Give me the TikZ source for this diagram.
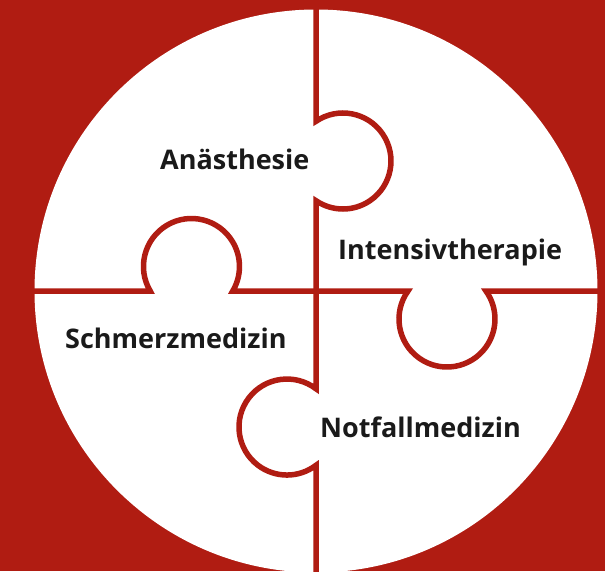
\documentclass[tikz,border=0pt]{standalone}
\usepackage{fontspec}
\setsansfont{Open Sans}
\definecolor{puzzlered}{RGB}{176,28,18}
\definecolor{labelgray}{RGB}{26,26,26}

\tikzset{
    cut/.style={draw=puzzlered, line width=5.5pt, line join=miter},
    label/.style={anchor=base west, inner sep=0pt, text=labelgray,
        font=\sffamily\bfseries\fontsize{27}{30}\selectfont}
}

\begin{document}
\begin{tikzpicture}[x=1pt, y=-1pt]
        \useasboundingbox (0,0) rectangle (605,571);
        \fill[puzzlered] (0,0) rectangle (605,571);
        \fill[white] (316,291) circle (281.5);
        % vertical cut with two knobs
        \draw[cut] (316,-5) -- (316,121.3)
            arc[start angle=-124.2, end angle=124.2, radius=48]
            -- (316,388.8)
            arc[start angle=-52.8, end angle=-307.2, radius=48]
            -- (316,580);
        % horizontal cut with two knobs
        \draw[cut] (-5,291) -- (150.2,291)
            arc[start angle=149.3, end angle=390.7, radius=48]
            -- (408,291)
            arc[start angle=215.7, end angle=-35.7, radius=48]
            -- (610,291);
        \node[label] (anae) at (160,169.3) {Anästhesie};
        \node[label] (inten) at (338,259.3) {Intensivtherapie};
        \node[label] (schmerz) at (65,348.3) {Schmerzmedizin};
        \node[label] (notfall) at (320,437) {Notfallmedizin};
\end{tikzpicture}
\end{document}
